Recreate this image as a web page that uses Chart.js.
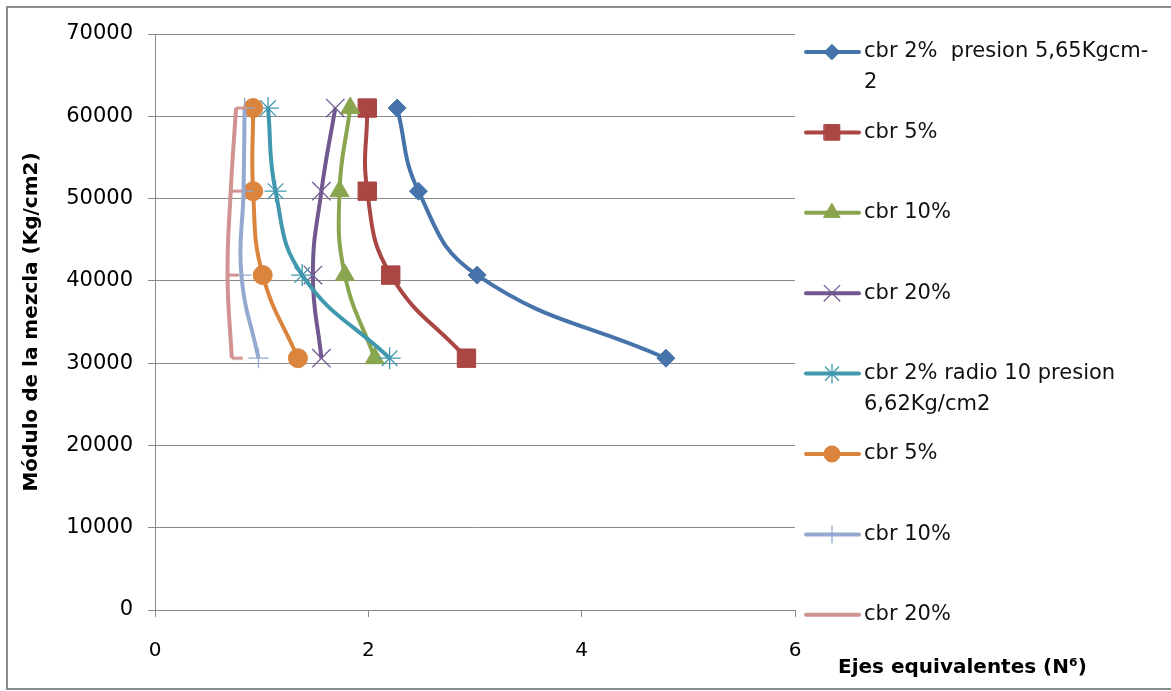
<!DOCTYPE html>
<html>
<head>
<meta charset="utf-8">
<title>Módulo de la mezcla vs ejes equivalentes</title>
<script src="https://cdn.jsdelivr.net/npm/chart.js@4.4.1/dist/chart.umd.min.js"></script>
<style>
    html, body { margin: 0; padding: 0; background: #fff; }
    #wrap { width: 1171px; height: 691px; }
</style>
</head>
<body>
<div id="wrap"><canvas id="moduloChart" width="1171" height="691"></canvas></div>
<script>
// Módulo de la mezcla (Kg/cm2) for each measured point
const moduloMezcla = [61000, 50900, 40700, 30600];

// Ejes equivalentes (N^6) per series, same order as moduloMezcla
const cbr2Presion565 = [2.27, 2.47, 3.02, 4.79];
const cbr5Presion565 = [1.99, 1.99, 2.21, 2.92];
const cbr10Presion565 = [1.83, 1.73, 1.78, 2.06];
const cbr20Presion565 = [1.69, 1.56, 1.48, 1.56];
const cbr2Radio10 = [1.06, 1.13, 1.38, 2.20];
const cbr5Radio10 = [0.92, 0.92, 1.01, 1.34];
const cbr10Radio10 = [0.84, 0.83, 0.81, 0.97];
const cbr20Radio10 = [0.76, 0.71, 0.68, 0.72];

const seriesLabels = [
    ["cbr 2%  presion 5,65Kgcm-", "2"],
    ["cbr 5%"],
    ["cbr 10%"],
    ["cbr 20%"],
    ["cbr 2% radio 10 presion", "6,62Kg/cm2"],
    ["cbr 5%"],
    ["cbr 10%"],
    ["cbr 20%"]
];

const yTicks = [0, 10000, 20000, 30000, 40000, 50000, 60000, 70000];
const xTicks = [0, 2, 4, 6];

const FONT = "'DejaVu Sans', sans-serif";
const GRID = "#8a8a8a";

// short dash marker that sticks out to the right of the point
function dashMarker(color) {
    const c = document.createElement("canvas");
    c.width = 26;
    c.height = 6;
    const g = c.getContext("2d");
    g.strokeStyle = color;
    g.lineWidth = 3;
    g.beginPath();
    g.moveTo(13, 3);
    g.lineTo(24, 3);
    g.stroke();
    return c;
}

const styles = [
    { color: "#4673AA", point: "rectRot", radius: 9, pbw: 1 },
    { color: "#AA4643", point: "rect", radius: 13, pbw: 1 },
    { color: "#89A54E", point: "triangle", radius: 11, pbw: 1 },
    { color: "#71588F", point: "crossRot", radius: 13, pbw: 1.3 },
    { color: "#4198AF", point: "star", radius: 11, pbw: 1.3 },
    { color: "#DB843D", point: "circle", radius: 9.5, pbw: 1 },
    { color: "#93A9CF", point: "cross", radius: 10, pbw: 1.3 },
    { color: "#D19392", point: dashMarker("#D19392"), radius: 6, pbw: 1 }
];

const seriesValues = [cbr2Presion565, cbr5Presion565, cbr10Presion565, cbr20Presion565,
    cbr2Radio10, cbr5Radio10, cbr10Radio10, cbr20Radio10];

const datasets = seriesValues.map((vals, i) => ({
    label: seriesLabels[i].join(" "),
    data: vals.map((x, k) => ({ x: x, y: moduloMezcla[k] })),
    showLine: true,
    tension: 0.45,
    borderColor: styles[i].color,
    backgroundColor: styles[i].color,
    borderWidth: 4,
    pointStyle: styles[i].point,
    pointRadius: styles[i].radius,
    pointHoverRadius: styles[i].radius,
    pointBorderWidth: styles[i].pbw,
    pointBorderColor: styles[i].color,
    pointBackgroundColor: styles[i].color,
    order: seriesValues.length - i // first series at the bottom
}));

// white background and the grey frame around the whole chart
const framePlugin = {
    id: "frame",
    beforeDraw(chart) {
        const ctx = chart.ctx;
        ctx.save();
        ctx.fillStyle = "#fff";
        ctx.fillRect(0, 0, chart.width, chart.height);
        ctx.strokeStyle = "#8c8c8c";
        ctx.lineWidth = 2;
        ctx.strokeRect(7, 7, chart.width + 10, 682);
        ctx.restore();
    }
};

// legend on the right and the x axis title under it
const sideLegend = {
    id: "sideLegend",
    afterDraw(chart) {
        const ctx = chart.ctx;
        ctx.save();
        const startY = 52;
        const step = 80.4;
        seriesLabels.forEach((lines, i) => {
            const y = startY + i * step;
            const s = styles[i];
            ctx.strokeStyle = s.color;
            ctx.lineWidth = 4;
            ctx.lineCap = "round";
            ctx.beginPath();
            ctx.moveTo(806, y);
            ctx.lineTo(859, y);
            ctx.stroke();
            ctx.fillStyle = s.color;
            ctx.lineWidth = s.pbw;
            if (typeof s.point === "string") {
                Chart.helpers.drawPoint(ctx, {
                    pointStyle: s.point,
                    radius: s.radius * 0.85,
                    rotation: 0,
                    borderWidth: s.pbw
                }, 832, y);
            }
            ctx.fillStyle = "#111";
            ctx.font = "21px " + FONT;
            ctx.textAlign = "left";
            ctx.textBaseline = "middle";
            lines.forEach((t, k) => ctx.fillText(t, 864, y + k * 31));
        });

        ctx.font = "bold 20px " + FONT;
        ctx.fillStyle = "#000";
        ctx.textAlign = "left";
        ctx.textBaseline = "middle";
        ctx.fillText("Ejes equivalentes (N\u2076)", 838, 668);
        ctx.restore();
    }
};

new Chart(document.getElementById("moduloChart"), {
    type: "scatter",
    data: { datasets: datasets },
    options: {
        responsive: false,
        animation: false,
        devicePixelRatio: 1,
        layout: { padding: { left: 0, top: 34, right: 376, bottom: 0 } },
        plugins: {
            legend: { display: false },
            tooltip: { enabled: false }
        },
        scales: {
            x: {
                type: "linear",
                min: 0,
                max: 6,
                afterFit: (scale) => { scale.height = 81; },
                afterBuildTicks: (scale) => { scale.ticks = xTicks.map(v => ({ value: v })); },
                ticks: {
                    color: "#000",
                    font: { family: FONT, size: 20 },
                    padding: 22,
                    callback: (v) => String(v)
                },
                grid: { drawOnChartArea: false, color: GRID, tickLength: 7 },
                border: { display: true, color: GRID, width: 1 }
            },
            y: {
                type: "linear",
                min: 0,
                max: 70000,
                afterFit: (scale) => { scale.width = 155; },
                afterBuildTicks: (scale) => { scale.ticks = yTicks.map(v => ({ value: v })); },
                ticks: {
                    color: "#000",
                    font: { family: FONT, size: 21 },
                    padding: 15,
                    callback: (v) => String(v)
                },
                grid: { color: GRID, tickLength: 7 },
                border: { display: true, color: GRID, width: 1 },
                title: {
                    display: true,
                    text: "Módulo de la mezcla (Kg/cm2)",
                    color: "#000",
                    font: { family: FONT, size: 20, weight: "bold" },
                    padding: { top: 20, bottom: 0 }
                }
            }
        }
    },
    plugins: [framePlugin, sideLegend]
});
</script>
</body>
</html>
